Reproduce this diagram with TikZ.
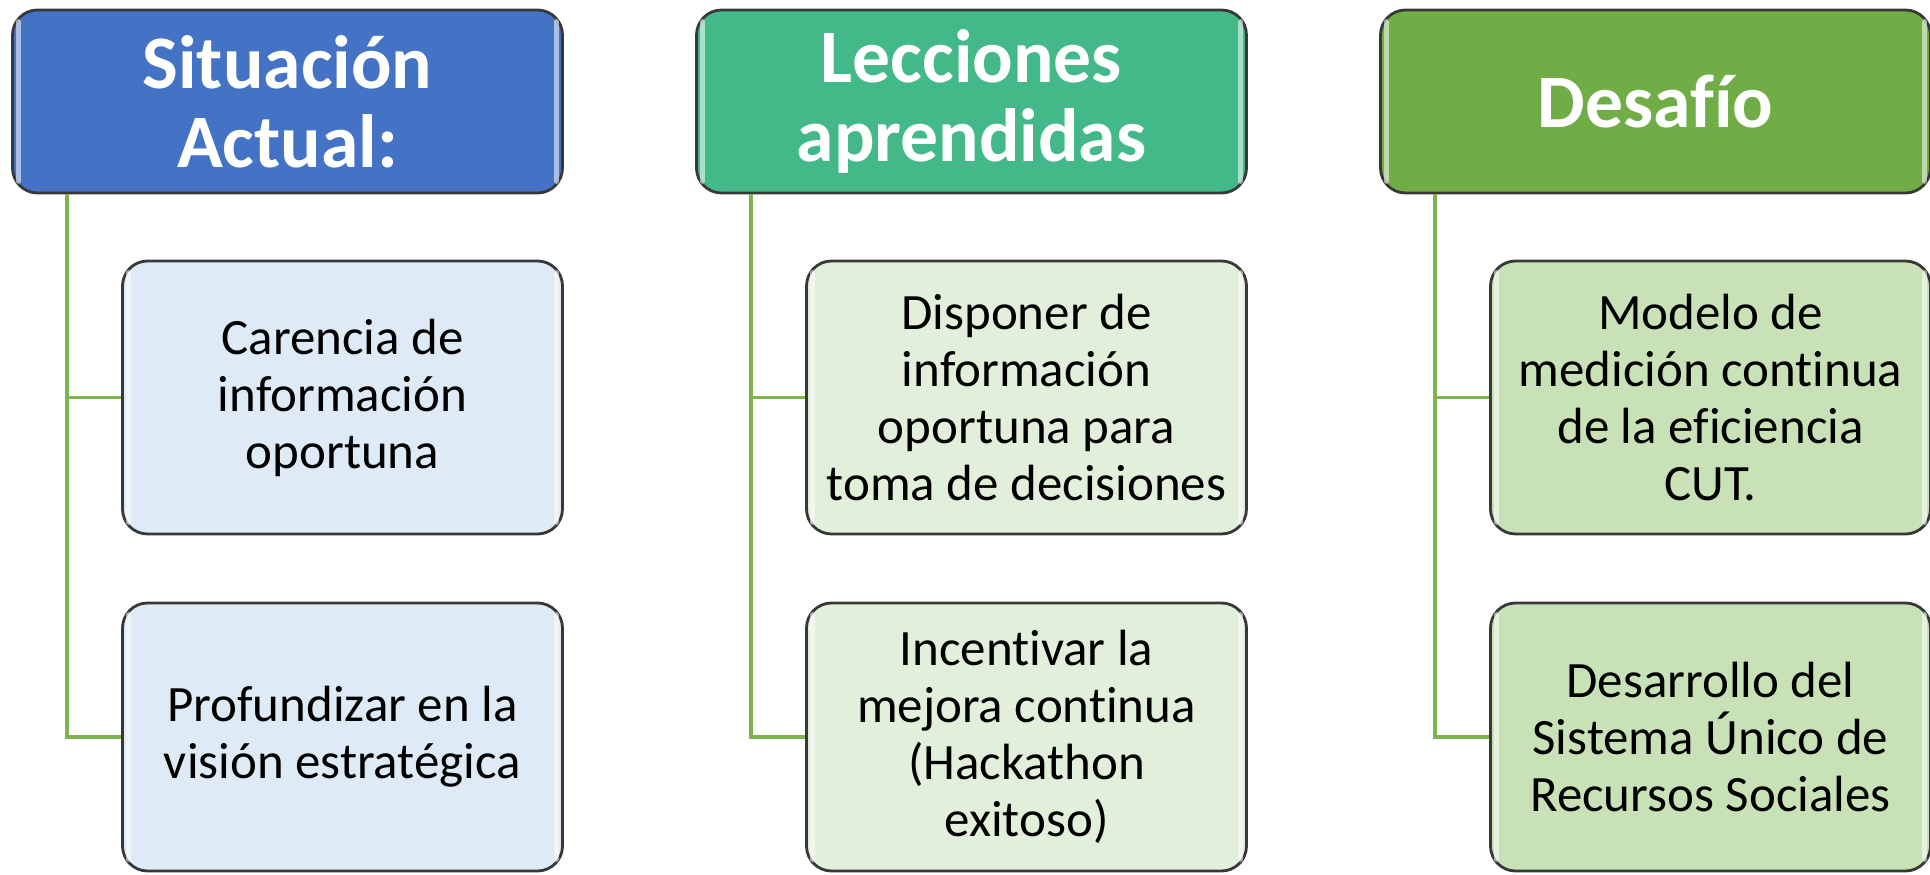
\documentclass[tikz,border=0pt]{standalone}
\usepackage{fontspec}
\setmainfont{Carlito}[Ligatures=NoCommon]
\usetikzlibrary{calc}
\colorlet{linecol}{black!78}
\definecolor{bluehead}{HTML}{4472C4}
\definecolor{tealhead}{HTML}{43B98A}
\definecolor{greenhead}{HTML}{70AD47}
\definecolor{blueitem}{HTML}{DEEAF6}
\definecolor{tealitem}{HTML}{E2EFDA}
\definecolor{greenitem}{HTML}{C8E1B7}
\definecolor{spinecol}{HTML}{7DB450}
\tikzset{
  head/.style={draw=linecol,line width=0.8pt,rounded corners=0.25cm,text=white,
               minimum width=5.5cm,minimum height=1.83cm,align=center,
               font=\fontsize{21.5}{22.5}\selectfont\bfseries},
  item/.style={draw=linecol,line width=0.8pt,rounded corners=0.25cm,
               minimum width=4.4cm,align=center,
               font=\fontsize{14.5}{16.2}\selectfont},
  spine/.style={spinecol,line width=1.1pt},
  shine/.style={white,opacity=0.55,line width=1.4pt,line cap=round}
}
\newcommand\gloss[1]{
  \draw[shine] ($(#1.north west)+(0.07,-0.13)$) -- ($(#1.south west)+(0.07,0.13)$);
  \draw[shine] ($(#1.north east)+(-0.07,-0.13)$) -- ($(#1.south east)+(-0.07,0.13)$);
}

\begin{document}
\begin{tikzpicture}
  \def\dx{6.84}  % column step
  \def\hy{7.725} % header centre
  \def\ay{4.765} % first item centre
  \def\by{1.37}  % second item centre
  \useasboundingbox (0,0) rectangle (19.30,8.74);

  % HEADERS
  \node[head,fill=bluehead]  (hdrA) at (2.875,\hy)       {Situación\\Actual:};
  \node[head,fill=tealhead]  (hdrB) at (2.875+\dx,\hy)   {Lecciones\\aprendidas};
  \node[head,fill=greenhead] (hdrC) at (2.875+2*\dx,\hy) {Desafío};

  % ITEMS
  \node[item,fill=blueitem,minimum height=2.73cm]  (itemA1) at (3.425,\ay) {Carencia de\\información\\oportuna};
  \node[item,fill=blueitem,minimum height=2.68cm]  (itemA2) at (3.425,\by) {Profundizar en la\\visión estratégica};
  \node[item,fill=tealitem,minimum height=2.73cm]  (itemB1) at (3.425+\dx,\ay) {Disponer de\\información\\oportuna para\\toma de decisiones};
  \node[item,fill=tealitem,minimum height=2.68cm]  (itemB2) at (3.425+\dx,\by) {Incentivar la\\mejora continua\\(Hackathon\\exitoso)};
  \node[item,fill=greenitem,minimum height=2.73cm] (itemC1) at (3.425+2*\dx,\ay) {Modelo de\\medición continua\\de la eficiencia\\CUT.};
  \node[item,fill=greenitem,minimum height=2.68cm] (itemC2) at (3.425+2*\dx,\by) {Desarrollo del\\Sistema Único de\\Recursos Sociales};

  % LINES
  \foreach \c in {A,B,C}{
    \coordinate (top\c) at ($(hdr\c.south west)+(0.56,0)$);
    \draw[spine] (top\c) |- (item\c1.west);
    \draw[spine] (top\c) |- (item\c2.west);
  }

  % SHINE
  \foreach \n in {hdrA,hdrB,hdrC,itemA1,itemA2,itemB1,itemB2,itemC1,itemC2}{
    \gloss{\n}
  }
\end{tikzpicture}
\end{document}
